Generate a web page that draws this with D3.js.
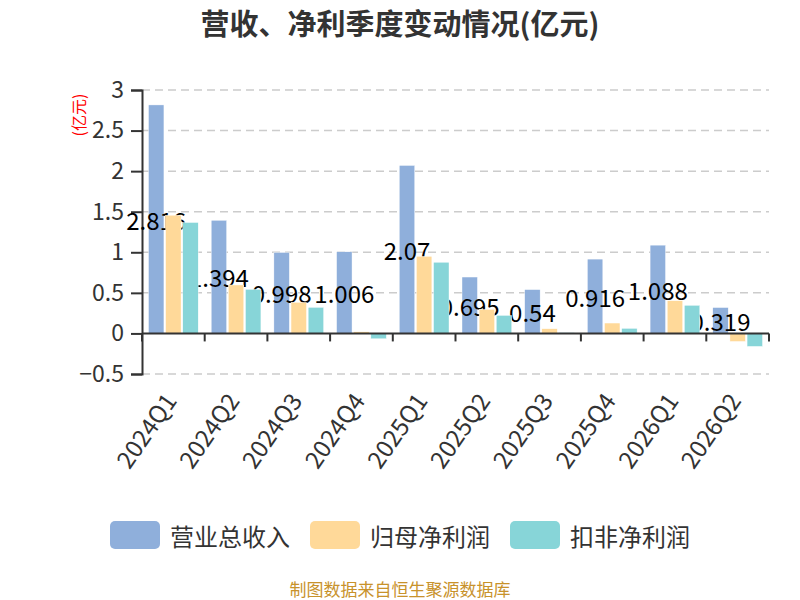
<!DOCTYPE html>
<html>
<head>
<meta charset="utf-8">
<script src="https://cdn.jsdelivr.net/npm/d3@7"></script>
<style>
  html, body { margin: 0; padding: 0; background: #fff; }
  svg { display: block; font-family: "Noto Sans CJK SC", "Noto Sans", sans-serif; }
</style>
</head>
<body>
<div id="chart"></div>
<script>
// 季度 & 三个系列 (亿元)
const quarters = ["2024Q1", "2024Q2", "2024Q3", "2024Q4", "2025Q1", "2025Q2", "2025Q3", "2025Q4", "2026Q1", "2026Q2"]
const revenue = [2.816, 1.394, 0.998, 1.006, 2.07, 0.695, 0.54, 0.916, 1.088, 0.319]
const netProfit = [1.457, 0.597, 0.383, 0.02, 0.95, 0.296, 0.058, 0.128, 0.403, -0.099]
const deductedProfit = [1.367, 0.543, 0.321, -0.066, 0.877, 0.222, 0.009, 0.062, 0.346, -0.16]
const seriesNames = ["营业总收入", "归母净利润", "扣非净利润"]
const yTicks = [-0.5, 0, 0.5, 1, 1.5, 2, 2.5, 3]

const colors = ["#8fafdb", "#ffd999", "#87d5d8"]
const width = 800, height = 600
const plotL = 142, plotR = 769, plotT = 90, plotB = 374

const svg = d3.select("#chart").append("svg").attr("width", width).attr("height", height)

svg.append("text").attr("x", 400).attr("y", 35).attr("text-anchor", "middle")
  .attr("font-size", 29).attr("font-weight", "bold").attr("fill", "#333")
  .text("营收、净利季度变动情况(亿元)")

const x = d3.scaleBand().domain(quarters).range([plotL, plotR])
const x1 = d3.scaleBand().domain(d3.range(3)).range([6.5, x.bandwidth() - 6.5]).paddingInner(0.1)
const y = d3.scaleLinear().domain([-0.5, 3]).range([plotB, plotT])

// grid
svg.append("g").selectAll("line").data(yTicks.filter(d => d !== 0)).join("line")
  .attr("x1", plotL).attr("x2", plotR).attr("y1", d => y(d)).attr("y2", d => y(d))
  .attr("stroke", "#ccc").attr("stroke-width", 1.5).attr("stroke-dasharray", "8,5")

// y axis
const yAxis = svg.append("g").attr("transform", `translate(${plotL},0)`)
  .call(d3.axisLeft(y).tickValues(yTicks).tickSize(11).tickPadding(7).tickFormat(d3.format("")))
yAxis.select(".domain").attr("stroke", "#333").attr("stroke-width", 2)
yAxis.selectAll(".tick line").attr("stroke", "#333").attr("stroke-width", 2)
yAxis.selectAll("text").attr("font-size", 23).attr("fill", "#333")
yAxis.attr("font-family", null)

svg.append("text").attr("transform", `translate(78,115) rotate(-90)`)
  .attr("text-anchor", "middle").attr("dominant-baseline", "central")
  .attr("font-size", 16).attr("fill", "red").text("(亿元)")

const all = [revenue, netProfit, deductedProfit]
const groups = svg.append("g")

function drawBars(si) {
  groups.append("g").selectAll("rect").data(all[si]).join("rect")
    .attr("x", (d, i) => x(quarters[i]) + x1(si))
    .attr("width", x1.bandwidth())
    .attr("y", d => y(Math.max(0, d)))
    .attr("height", d => Math.max(1, Math.abs(y(d) - y(0))))
    .attr("fill", colors[si])
    .attr("stroke", "#fff").attr("stroke-width", 0.4)
}

drawBars(0)
// 营收数据标签 (居中于柱)
groups.append("g").selectAll("text").data(revenue).join("text")
  .attr("x", (d, i) => x(quarters[i]) + x1(0) + x1.bandwidth() / 2)
  .attr("y", d => (y(d) + y(0)) / 2)
  .attr("text-anchor", "middle").attr("dominant-baseline", "central")
  .attr("font-size", 24).attr("fill", "#000")
  .text(d => d)
drawBars(1)
drawBars(2)

// x axis
const xAxis = svg.append("g").attr("transform", `translate(0,${y(0)})`)
xAxis.append("line").attr("x1", plotL).attr("x2", plotR).attr("stroke", "#333").attr("stroke-width", 2)
xAxis.selectAll(".tk").data(quarters.concat([null])).join("line")
  .attr("x1", (d, i) => plotL + i * x.step()).attr("x2", (d, i) => plotL + i * x.step())
  .attr("y1", 0).attr("y2", 8).attr("stroke", "#333").attr("stroke-width", 2)

svg.append("g").selectAll("text").data(quarters).join("text")
  .attr("transform", d => `translate(${x(d) + x.bandwidth() / 2 - 4},395) rotate(-55)`)
  .attr("text-anchor", "end").attr("dominant-baseline", "central")
  .attr("font-size", 24).attr("fill", "#333")
  .text(d => d)

// legend
const legendX = [110, 310, 510]
const legend = svg.append("g")
seriesNames.forEach((name, i) => {
  legend.append("rect").attr("x", legendX[i]).attr("y", 521).attr("width", 50).attr("height", 28)
    .attr("rx", 5).attr("fill", colors[i])
  legend.append("text").attr("x", legendX[i] + 60).attr("y", 535).attr("dominant-baseline", "central")
    .attr("font-size", 24).attr("fill", "#333").text(name)
})

svg.append("text").attr("x", 400).attr("y", 588).attr("text-anchor", "middle").attr("dominant-baseline", "central")
  .attr("font-size", 17).attr("fill", "#c8922b").text("制图数据来自恒生聚源数据库")
</script>
</body>
</html>
